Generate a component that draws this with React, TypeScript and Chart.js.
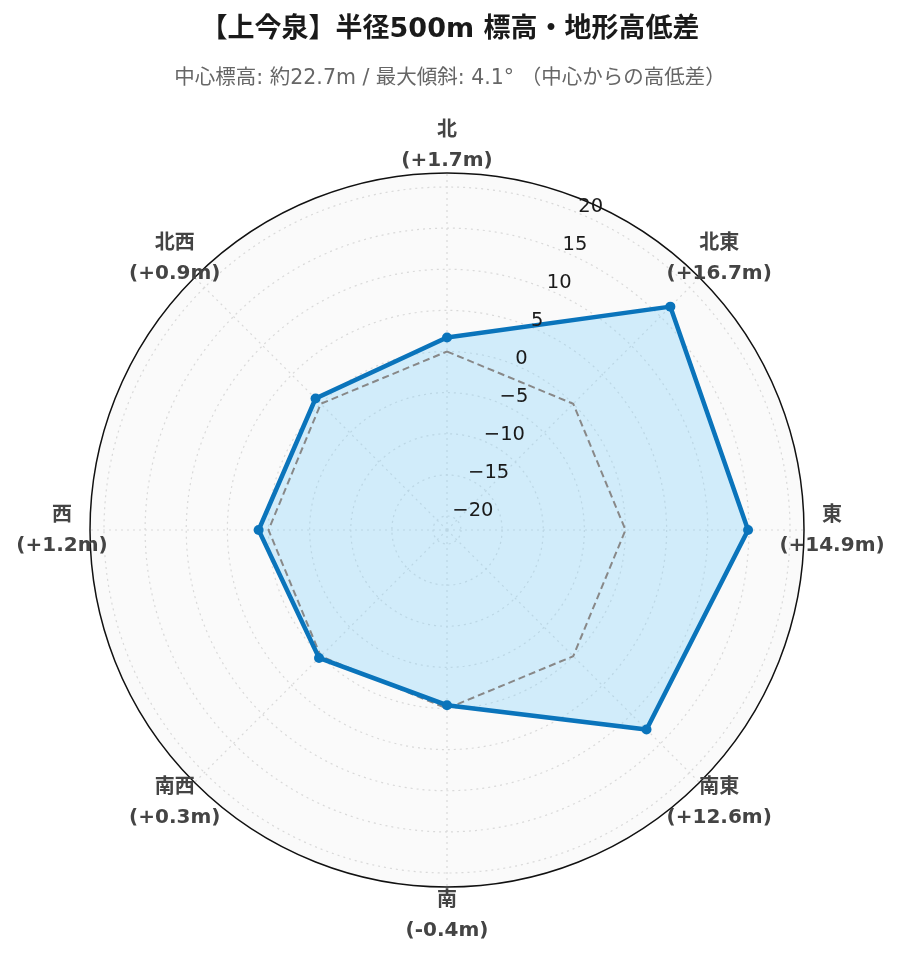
import { useEffect, useRef } from "react";
import { Chart, registerables } from "chart.js";

Chart.register(...registerables);

const TITLE = "【上今泉】半径500m 標高・地形高低差";
const SUBTITLE = "中心標高: 約22.7m / 最大傾斜: 4.1° （中心からの高低差）";
const DIRECTIONS = ["北", "北東", "東", "南東", "南", "南西", "西", "北西"];
const ELEVATION_DIFF = [1.7, 16.7, 14.9, 12.6, -0.4, 0.3, 1.2, 0.9];
const ZERO_LINE = [0, 0, 0, 0, 0, 0, 0, 0];
const TICK_VALUES = [-20, -15, -10, -5, 0, 5, 10, 15, 20];
const R_MIN = -21.7;
const R_MAX = 21.7;

const FONT = "'DejaVu Sans', 'Noto Sans CJK JP', sans-serif";
const LINE_COLOR = "#0a74bb";

const fmtDiff = (v: number) => `(${v >= 0 ? "+" : ""}${v.toFixed(1)}m)`;
const fmtTick = (v: number) => (v < 0 ? "\u2212" + Math.abs(v) : String(v));

const polarDecor = {
  id: "polarDecor",
  beforeDraw(chart: any) {
    const s = chart.scales.r;
    const ctx = chart.ctx as CanvasRenderingContext2D;
    ctx.save();
    ctx.beginPath();
    ctx.arc(s.xCenter, s.yCenter, s.drawingArea, 0, Math.PI * 2);
    ctx.fillStyle = "#fafafa";
    ctx.fill();
    ctx.restore();

    // title & subtitle
    const cx = chart.width / 2;
    ctx.save();
    ctx.textAlign = "center";
    ctx.textBaseline = "middle";
    ctx.fillStyle = "#1a1a1a";
    ctx.font = `bold 27px ${FONT}`;
    ctx.fillText(TITLE, cx, 22);
    ctx.fillStyle = "#666666";
    ctx.font = `20.5px ${FONT}`;
    ctx.fillText(SUBTITLE, cx, 71);
    ctx.restore();
  },
  afterDatasetsDraw(chart: any) {
    const s = chart.scales.r;
    const ctx = chart.ctx as CanvasRenderingContext2D;
    ctx.save();
    // outer border circle
    ctx.beginPath();
    ctx.arc(s.xCenter, s.yCenter, s.drawingArea, 0, Math.PI * 2);
    ctx.strokeStyle = "#111111";
    ctx.lineWidth = 1.5;
    ctx.stroke();

    // radial tick labels along 22.5° line
    ctx.font = `19.5px ${FONT}`;
    ctx.fillStyle = "#1a1a1a";
    ctx.textAlign = "left";
    ctx.textBaseline = "middle";
    TICK_VALUES.forEach((v) => {
      const d = s.getDistanceFromCenterForValue(v);
      const p = s.getPointPosition(0.5, d);
      ctx.fillText(fmtTick(v), p.x, p.y - 6);
    });

    // direction labels
    ctx.textAlign = "center";
    ctx.fillStyle = "#444444";
    ctx.font = `bold 20px ${FONT}`;
    DIRECTIONS.forEach((name, i) => {
      const p = s.getPointPosition(i, s.drawingArea + 28);
      ctx.fillText(name, p.x, p.y - 14);
      ctx.fillText(fmtDiff(ELEVATION_DIFF[i]), p.x, p.y + 16);
    });
    ctx.restore();
  },
};

export default function App() {
  const ref = useRef<HTMLCanvasElement | null>(null);

  useEffect(() => {
    if (!ref.current) return;
    const chart = new Chart(ref.current, {
      type: "radar",
      data: {
        labels: DIRECTIONS,
        datasets: [
          {
            label: "高低差",
            data: ELEVATION_DIFF,
            borderColor: LINE_COLOR,
            backgroundColor: "rgba(135, 212, 250, 0.36)",
            borderWidth: 4.5,
            pointRadius: 5,
            pointBackgroundColor: LINE_COLOR,
            pointBorderColor: LINE_COLOR,
            pointBorderWidth: 0,
            fill: "start",
            tension: 0,
            order: 0,
          },
          {
            label: "基準 (0m)",
            data: ZERO_LINE,
            borderColor: "#888888",
            borderWidth: 2,
            borderDash: [7, 4],
            pointRadius: 0,
            fill: false,
            tension: 0,
            order: 1,
          },
        ],
      },
      options: {
        animation: false,
        responsive: false,
        layout: { padding: { left: 82, right: 88, top: 165, bottom: 67 } },
        plugins: {
          legend: { display: false },
          title: { display: false },
          tooltip: { enabled: false },
          filler: { drawTime: "beforeDatasetsDraw" },
        },
        scales: {
          r: {
            min: R_MIN,
            max: R_MAX,
            afterBuildTicks: (scale: any) => {
              scale.ticks = TICK_VALUES.map((v) => ({ value: v }));
            },
            ticks: { display: false },
            pointLabels: { display: false },
            grid: { circular: true, color: "#d9d9d9", lineWidth: 1.2 },
            border: { dash: [2, 4] },
            angleLines: { color: "#d9d9d9", lineWidth: 1.2, borderDash: [2, 4] },
          },
        },
      },
      plugins: [polarDecor],
    } as any);
    return () => chart.destroy();
  }, []);

  return (
    <canvas
      ref={ref}
      width={884}
      height={946}
      style={{ display: "block", width: 884, height: 946 }}
    />
  );
}
